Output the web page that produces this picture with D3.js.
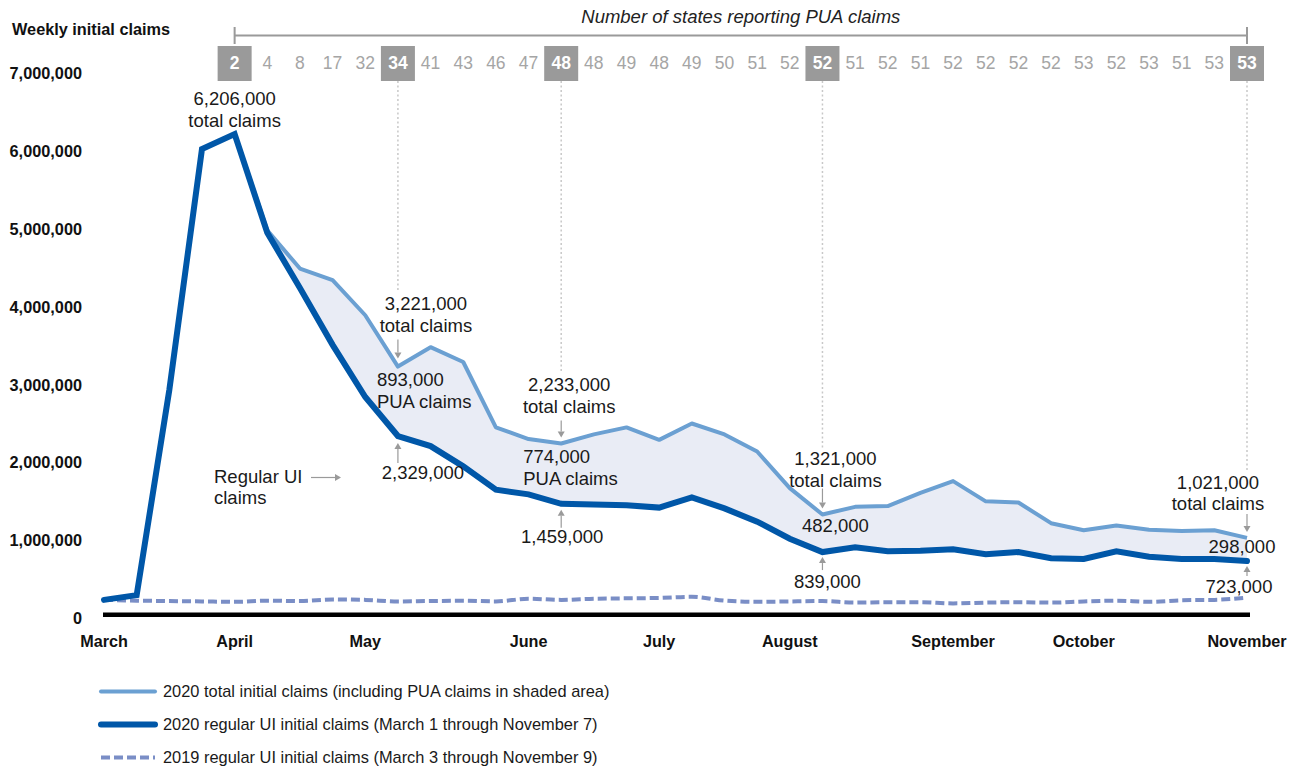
<!DOCTYPE html>
<html>
<head>
<meta charset="utf-8">
<script src="https://cdn.jsdelivr.net/npm/d3@7"></script>
<style>
  html, body { margin: 0; padding: 0; background: #fff; }
  svg { display: block; font-family: "Liberation Sans", Arial, sans-serif; }
</style>
</head>
<body>
<svg id="chart" width="1296" height="769"></svg>
<script>
// Weekly initial claims, in thousands. Week index 0 = week ending March 7.
const regular2020 = [225, 285, 2920, 6015, 6206, 4940, 4230, 3500, 2830, 2329, 2200, 1940,
  1640, 1580, 1459, 1450, 1440, 1410, 1540, 1400, 1230, 1010, 839, 900, 850, 855, 875, 810,
  840, 760, 750, 850, 780, 750, 750, 723];
const total2020 = [225, 285, 2920, 6015, 6206, 4970, 4480, 4330, 3880, 3221, 3470, 3280,
  2440, 2290, 2233, 2350, 2440, 2280, 2490, 2350, 2130, 1660, 1321, 1420, 1430, 1600, 1750,
  1490, 1475, 1210, 1120, 1180, 1125, 1110, 1120, 1021];
const regular2019 = [225, 215, 210, 205, 200, 215, 210, 230, 225, 205, 210, 215, 205, 240,
  225, 240, 245, 250, 265, 215, 200, 205, 210, 190, 195, 195, 180, 190, 195, 190, 205, 215,
  200, 220, 225, 255];

// Number of states reporting PUA claims, from week index 4 onward
const puaStartWeek = 4;
const puaStates = [2, 4, 8, 17, 32, 34, 41, 43, 46, 47, 48, 48, 49, 48, 49, 50, 51, 52, 52,
  51, 52, 51, 52, 52, 52, 52, 53, 52, 53, 51, 53, 53];
const highlightWeeks = [4, 9, 14, 22, 35];

const monthLabels = ["March", "April", "May", "June", "July", "August", "September", "October", "November"];
const monthWeeks = [0, 4, 8, 13, 17, 21, 26, 30, 35];

const yTicks = [0, 1000, 2000, 3000, 4000, 5000, 6000, 7000];

// PUA-only amounts shown between the two lines
const puaLabelText = ["893,000", "774,000", "482,000", "298,000"];

const svg = d3.select("#chart");
const x = d3.scaleLinear().domain([0, 35]).range([104, 1247]);
const y = d3.scaleLinear().domain([0, 7000]).range([617.4, 72.3]);
const fmt = v => d3.format(",")(v * 1000);

const C_TOTAL = "#6ba0d2", C_REG = "#0057a8", C_2019 = "#7a8ec6", C_AREA = "#e9ecf5";
const GRAY = "#9a9a9a";

// Y axis labels
svg.append("text").attr("x", 12).attr("y", 31).attr("dominant-baseline", "middle")
  .attr("font-size", 16.3).attr("font-weight", "bold").attr("fill", "#111")
  .text("Weekly initial claims");
const yAxis = d3.axisLeft(y).tickValues(yTicks).tickSize(0).tickPadding(0)
  .tickFormat(d => d3.format(",")(d * 1000));
const gy = svg.append("g").attr("transform", "translate(82,1)").call(yAxis);
gy.select(".domain").remove();
gy.selectAll("text").attr("font-size", 16.3).attr("font-weight", "bold").attr("fill", "#111")
  .attr("font-family", "Liberation Sans, Arial, sans-serif");

// Shaded PUA area between total and regular claims
const idx = d3.range(total2020.length);
svg.append("path")
  .attr("d", d3.area().x(i => x(i)).y0(i => y(regular2020[i])).y1(i => y(total2020[i]))(idx.filter(i => i >= 4)))
  .attr("fill", C_AREA);

// Dotted leader lines from highlighted state counts
const leaderEnds = {9: 290, 14: 372, 22: 448, 35: 470};
highlightWeeks.filter(w => leaderEnds[w]).forEach(w => {
  svg.append("line").attr("x1", x(w)).attr("x2", x(w)).attr("y1", 81).attr("y2", leaderEnds[w])
    .attr("stroke", "#c8c8c8").attr("stroke-width", 1.5).attr("stroke-dasharray", "2,2.5");
});

// 2019 regular claims (dashed)
svg.append("path").attr("d", d3.line().x((d, i) => x(i)).y(d => y(d)).curve(d3.curveMonotoneX)(regular2019))
  .attr("fill", "none").attr("stroke", C_2019).attr("stroke-width", 4).attr("stroke-dasharray", "9,4");

// 2020 total claims
svg.append("path").attr("d", d3.line().x((d, i) => x(i)).y(d => y(d))(total2020))
  .attr("fill", "none").attr("stroke", C_TOTAL).attr("stroke-width", 4).attr("stroke-linejoin", "round");

// 2020 regular UI claims
svg.append("path").attr("d", d3.line().x((d, i) => x(i)).y(d => y(d))(regular2020))
  .attr("fill", "none").attr("stroke", C_REG).attr("stroke-width", 6).attr("stroke-linejoin", "miter")
  .attr("stroke-linecap", "round");

// X axis baseline and month labels
svg.append("line").attr("x1", x(0) - 1).attr("x2", x(35) + 3).attr("y1", y(0) - 2.6).attr("y2", y(0) - 2.6)
  .attr("stroke", "#000").attr("stroke-width", 4.5);
svg.selectAll(".month").data(monthLabels).join("text")
  .attr("x", (d, i) => x(monthWeeks[i])).attr("y", 643).attr("text-anchor", "middle")
  .attr("dominant-baseline", "middle").attr("font-size", 16.2).attr("font-weight", "bold")
  .attr("fill", "#111").text(d => d);

// States reporting PUA claims row
svg.append("text").attr("x", (x(4) + x(35)) / 2).attr("y", 18).attr("text-anchor", "middle")
  .attr("dominant-baseline", "middle").attr("font-size", 18.5).attr("font-style", "italic")
  .attr("fill", "#222").text("Number of states reporting PUA claims");
svg.append("path")
  .attr("d", `M${x(4)},27V44M${x(4)},35.5H${x(35)}M${x(35)},27V44`)
  .attr("fill", "none").attr("stroke", GRAY).attr("stroke-width", 2);
const stateG = svg.append("g");
puaStates.forEach((n, k) => {
  const w = k + puaStartWeek;
  const hi = highlightWeeks.includes(w);
  if (hi) {
    stateG.append("rect").attr("x", x(w) - 17).attr("y", 46).attr("width", 34).attr("height", 35)
      .attr("fill", GRAY);
  }
  stateG.append("text").attr("x", x(w)).attr("y", 64.5).attr("text-anchor", "middle")
    .attr("dominant-baseline", "middle").attr("font-size", 17.5)
    .attr("font-weight", hi ? "bold" : "normal")
    .attr("fill", hi ? "#fff" : "#a5a5a5").text(n);
});

// Annotations
const ann = svg.append("g").attr("font-size", 18.5).attr("fill", "#1a1a1a");
function label(cx, cy, lines, anchor) {
  lines.forEach((t, j) => {
    ann.append("text").attr("x", cx).attr("y", cy + 1 + j * 21.5).attr("text-anchor", anchor || "middle")
      .attr("dominant-baseline", "middle").text(t);
  });
}
function arrow(x1, y1, x2, y2) {
  const a = Math.atan2(y2 - y1, x2 - x1), L = 6, W = 3.5;
  const bx = x2 - L * Math.cos(a), by = y2 - L * Math.sin(a);
  svg.append("line").attr("x1", x1).attr("y1", y1).attr("x2", bx).attr("y2", by)
    .attr("stroke", GRAY).attr("stroke-width", 1.2);
  svg.append("path")
    .attr("d", `M${x2},${y2}L${bx - W * Math.sin(a)},${by + W * Math.cos(a)}L${bx + W * Math.sin(a)},${by - W * Math.cos(a)}Z`)
    .attr("fill", GRAY);
}

// Peak total
label(x(4), y(total2020[4]) - 35, [fmt(total2020[4]), "total claims"]);

// Week 9
label(x(9) + 28, y(total2020[9]) - 62, [fmt(total2020[9]), "total claims"]);
arrow(x(9), y(total2020[9]) - 27, x(9), y(total2020[9]) - 8);
label(x(9) - 21, y(total2020[9]) + 14, [puaLabelText[0], "PUA claims"], "start");
arrow(x(9), y(regular2020[9]) + 27, x(9), y(regular2020[9]) + 7);
label(x(9) + 25, y(regular2020[9]) + 37, [fmt(regular2020[9])]);

// Regular UI callout
label(214, 477, ["Regular UI", "claims"], "start");
arrow(311, 477.5, 341, 477.5);

// Week 14
label(x(14) + 8, y(total2020[14]) - 58, [fmt(total2020[14]), "total claims"]);
arrow(x(14), y(total2020[14]) - 23, x(14), y(total2020[14]) - 6);
label(x(14) - 38, y(total2020[14]) + 14, [puaLabelText[1], "PUA claims"], "start");
arrow(x(14), y(regular2020[14]) + 24, x(14), y(regular2020[14]) + 6);
label(x(14) + 1, y(regular2020[14]) + 33, [fmt(regular2020[14])]);

// Week 22
label(x(22) + 13, y(total2020[22]) - 55, [fmt(total2020[22]), "total claims"]);
arrow(x(22), y(total2020[22]) - 26, x(22), y(total2020[22]) - 6);
label(x(22) + 13, y(total2020[22]) + 12, [puaLabelText[2]]);
arrow(x(22), y(regular2020[22]) + 18, x(22), y(regular2020[22]) + 5);
label(x(22) + 5, y(regular2020[22]) + 30, [fmt(regular2020[22])]);

// Week 35
label(x(35) - 29, y(total2020[35]) - 55, [fmt(total2020[35]), "total claims"]);
arrow(x(35), y(total2020[35]) - 24, x(35), y(total2020[35]) - 6);
label(x(35) - 5, y(total2020[35]) + 9, [puaLabelText[3]]);
arrow(x(35), y(regular2020[35]) + 15, x(35), y(regular2020[35]) + 5);
label(x(35) - 8, y(regular2020[35]) + 26, [fmt(regular2020[35])]);

// Legend
const legend = [
  {text: "2020 total initial claims (including PUA claims in shaded area)", color: C_TOTAL, w: 4, dash: null},
  {text: "2020 regular UI initial claims (March 1 through November 7)", color: C_REG, w: 6, dash: null},
  {text: "2019 regular UI initial claims (March 3 through November 9)", color: C_2019, w: 4, dash: "9,4"}
];
const lg = svg.append("g");
legend.forEach((d, i) => {
  const ly = 691.5 + i * 33;
  lg.append("line").attr("x1", 101).attr("x2", 155).attr("y1", ly).attr("y2", ly)
    .attr("stroke", d.color).attr("stroke-width", d.w).attr("stroke-linecap", d.dash ? "butt" : "round")
    .attr("stroke-dasharray", d.dash);
  lg.append("text").attr("x", 163).attr("y", ly + 1).attr("dominant-baseline", "middle")
    .attr("font-size", 16.4).attr("fill", "#1a1a1a").text(d.text);
});
</script>
</body>
</html>
